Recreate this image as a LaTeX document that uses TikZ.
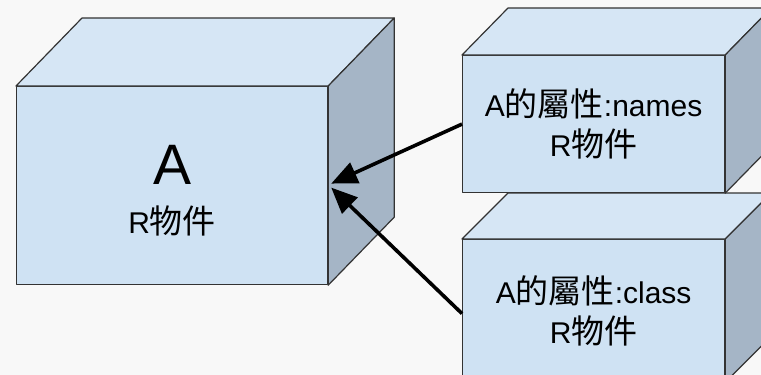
\documentclass[tikz,border=0pt]{standalone}
\usepackage{fontspec}
\setmainfont{Liberation Sans}
\newfontfamily\cjk{Noto Sans CJK TC}[Scale=1.1]
\usetikzlibrary{arrows.meta}
\definecolor{bg}{HTML}{F8F8F8}
\definecolor{frontface}{HTML}{CFE2F3}
\definecolor{topface}{HTML}{D6E6F5}
\definecolor{sideface}{HTML}{A5B5C6}
\definecolor{edgecol}{HTML}{333333}
\tikzset{
  face/.style={draw=edgecol, line width=1.2pt, line join=round},
  frontbox/.style={face, fill=frontface, inner sep=0pt, anchor=north west,
    align=center, font=\fontsize{30}{40}\selectfont},
  link/.style={line width=3.6pt, -{Triangle[length=26pt,width=22pt]}},
}
% top and right faces of a box whose front face is node #1, depth (#2,#3)
\newcommand\boxdepth[3]{%
  \filldraw[face, fill=topface] (#1.north west) -- ++(#2,-#3)
    -- ([shift={(#2,-#3)}]#1.north east) -- (#1.north east) -- cycle;
  \filldraw[face, fill=sideface] (#1.north east) -- ++(#2,-#3)
    -- ([shift={(#2,-#3)}]#1.south east) -- (#1.south east) -- cycle;
}
\begin{document}
\begin{tikzpicture}[x=1pt, y=-1pt]
  \fill[bg] (0,0) rectangle (761,375);
  \useasboundingbox (0,0) rectangle (761,375);
  \clip (0,0) rectangle (761,375);

  % object A
  \node[frontbox, minimum width=311pt, minimum height=198pt] (a) at (16,86)
    {\rule{0pt}{14pt}\\[-4pt]\fontsize{57}{57}\selectfont A\\[9pt]R{\cjk 物件}};
  \boxdepth{a}{66}{68}

  % attribute: class
  \node[frontbox, minimum width=262pt, minimum height=142pt] (cls) at (462,239)
    {A{\cjk 的屬性}:class\\R{\cjk 物件}};
  \boxdepth{cls}{46}{46}

  % attribute: names
  \node[frontbox, minimum width=262pt, minimum height=137pt] (nms) at (462,55)
    {A{\cjk 的屬性}:names\\R{\cjk 物件}};
  \boxdepth{nms}{46}{47}

  % attributes point to A
  \draw[link] (nms.west) -- ([shift={(3,-2)}]a.east);
  \draw[link] ([yshift=-3]cls.west) -- ([shift={(3,2)}]a.east);
\end{tikzpicture}
\end{document}
